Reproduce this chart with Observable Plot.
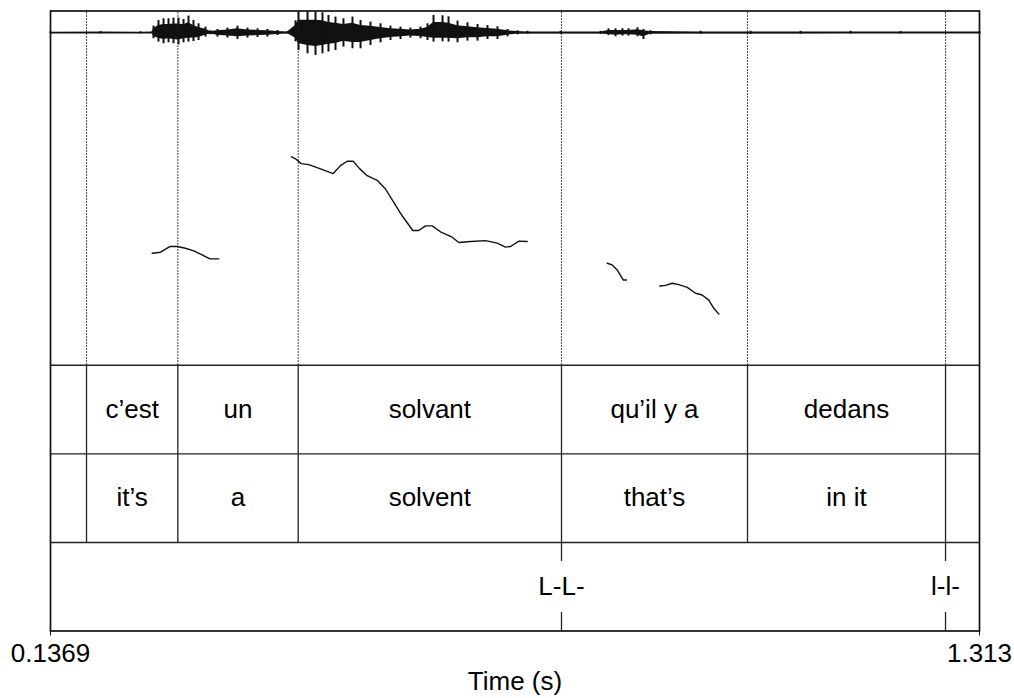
<!DOCTYPE html>
<html>
<head>
<meta charset="utf-8">
<script src="https://cdn.jsdelivr.net/npm/d3@7"></script>
<script src="https://cdn.jsdelivr.net/npm/@observablehq/plot@0.6"></script>
<style>
  html, body { margin: 0; padding: 0; background: white; }
  #chart { width: 1014px; height: 698px; }
</style>
</head>
<body>
<div id="chart"></div>
<script>
// ---- Data ----
const timeDomain = [0.1369, 1.313];           // seconds, axis end labels
const boundaries = [0.1825, 0.2981, 0.4505, 0.7838, 1.0193, 1.2700];
const frenchWords = ["", "c’est", "un", "solvant", "qu’il y a", "dedans", ""];
const englishWords = ["", "it’s", "a", "solvent", "that’s", "in it", ""];
const tonePoints = [0.7838, 1.2700];
const toneLabels = ["L-L-", "l-l-"];

// Pitch track (s, Hz), four voiced stretches
const pitchSeg1 = [[0.2656,129.1],[0.2762,129.8],[0.2879,133.8],[0.2973,133.8],[0.3078,132.6],[0.3183,130.7],[0.3289,127.9],[0.3386,125.1],[0.3500,125.1]];
const pitchSeg2 = [[0.4420,197.1],[0.4471,195.7],[0.4543,192.3],[0.4639,191.6],[0.4787,188.6],[0.4948,185.3],[0.5040,190.9],[0.5125,194.0],[0.5201,194.0],[0.5285,188.6],[0.5378,183.8],[0.5505,180.5],[0.5610,174.4],[0.5715,164.9],[0.5821,155.5],[0.5956,145.1],[0.6032,145.1],[0.6116,148.4],[0.6201,148.4],[0.6306,144.2],[0.6454,140.4],[0.6538,136.6],[0.6686,137.3],[0.6876,138.0],[0.7024,136.2],[0.7129,133.4],[0.7193,133.8],[0.7298,137.6],[0.7404,137.3]];
const pitchSeg3 = [[0.8417,122.0],[0.8480,120.8],[0.8543,117.3],[0.8619,110.2],[0.8661,110.2]];
const pitchSeg4 = [[0.9083,105.9],[0.9155,106.4],[0.9240,107.9],[0.9323,106.9],[0.9430,105.0],[0.9535,100.8],[0.9619,99.6],[0.9703,96.0],[0.9766,90.2],[0.9830,86.1]];

// Waveform amplitude envelope (s, upper, lower magnitude)
const waveTime  = [0.1369,0.2002,0.2508,0.2660,0.2673,0.2736,0.2800,0.2863,0.2926,0.2990,0.3053,0.3116,0.3179,0.3243,0.3331,0.3395,0.3483,0.3610,0.3736,0.3863,0.3990,0.4116,0.4243,0.4369,0.4471,0.4509,0.4623,0.4724,0.4812,0.4888,0.4977,0.5078,0.5192,0.5294,0.5420,0.5547,0.5673,0.5800,0.5926,0.6053,0.6142,0.6218,0.6332,0.6408,0.6522,0.6648,0.6775,0.6901,0.7028,0.7155,0.7281,0.7408,0.7826,0.8332,0.8433,0.8522,0.8610,0.8686,0.8800,0.8876,0.8965,0.9598,1.0231,1.0864,1.1497,1.2130,1.3130];
const waveUpper = [0.010,0.012,0.010,0.015,0.067,0.123,0.140,0.140,0.147,0.147,0.133,0.167,0.123,0.090,0.057,0.020,0.033,0.047,0.067,0.047,0.040,0.033,0.023,0.013,0.120,0.207,0.210,0.210,0.200,0.173,0.157,0.140,0.157,0.123,0.107,0.090,0.067,0.057,0.047,0.057,0.090,0.173,0.170,0.160,0.117,0.100,0.083,0.073,0.060,0.033,0.020,0.015,0.015,0.015,0.040,0.040,0.040,0.040,0.050,0.033,0.020,0.015,0.015,0.015,0.015,0.012,0.012];
const waveLower = [0.010,0.010,0.010,0.012,0.060,0.093,0.110,0.100,0.110,0.120,0.100,0.093,0.087,0.077,0.043,0.020,0.043,0.053,0.067,0.053,0.047,0.043,0.027,0.013,0.090,0.177,0.210,0.227,0.210,0.193,0.177,0.143,0.160,0.160,0.127,0.100,0.077,0.067,0.053,0.060,0.077,0.093,0.090,0.093,0.100,0.083,0.083,0.067,0.067,0.040,0.020,0.015,0.015,0.015,0.027,0.040,0.033,0.033,0.040,0.067,0.020,0.015,0.015,0.015,0.012,0.012,0.012];

// ---- Layout (vertical bands in y units: tone tier 0-1, English 1-2, French 2-3, signal 3-7) ----
const WAVE_BASE = 6.754, WAVE_GAIN = 1.129, CORE = 0.6;
const pitchY = hz => 3 + (hz - 50) / 250 * 4;

const edges = [timeDomain[0], ...boundaries, timeDomain[1]];
const intervals = frenchWords.map((w, i) => ({start: edges[i], end: edges[i + 1], fr: w, en: englishWords[i]}));
const wave = waveTime.map((t, i) => ({t, hi: waveUpper[i], lo: waveLower[i]}));
const pitch = [pitchSeg1, pitchSeg2, pitchSeg3, pitchSeg4].flatMap((seg, k) => seg.map(([t, hz]) => ({t, hz, seg: k})));
const tones = tonePoints.map((t, i) => ({t, label: toneLabels[i]}));

const font = "'Liberation Sans', Arial, sans-serif";

const chart = Plot.plot({
  width: 1014,
  height: 698,
  marginLeft: 50,
  marginRight: 35,
  marginTop: 10.5,
  marginBottom: 67.5,
  style: {fontFamily: font, fontSize: "26px", color: "black", background: "white", overflow: "visible"},
  x: {domain: timeDomain, ticks: timeDomain, tickFormat: d => String(d), tickSize: 5, tickPadding: 8, label: null},
  y: {domain: [0, 7], axis: null},
  marks: [
    // waveform: solid core plus pulse spikes to the envelope
    Plot.areaY(wave, {x: "t", y1: d => WAVE_BASE - d.lo * WAVE_GAIN * CORE, y2: d => WAVE_BASE + d.hi * WAVE_GAIN * CORE, fill: "#111"}),
    Plot.ruleX(wave, {x: "t", y1: d => WAVE_BASE - d.lo * WAVE_GAIN, y2: d => WAVE_BASE + d.hi * WAVE_GAIN, stroke: "#111", strokeWidth: 2}),
    Plot.line(wave, {x: "t", y: () => WAVE_BASE, stroke: "#111", strokeWidth: 1.6}),
    // dotted boundary extensions through the signal panel
    Plot.ruleX(boundaries, {y1: 3, y2: 7, stroke: "#222", strokeWidth: 1.1, strokeDasharray: "1.5,1.5"}),
    // pitch track
    Plot.line(pitch, {x: "t", y: d => pitchY(d.hz), z: "seg", stroke: "#111", strokeWidth: 1.4}),
    // tier separators
    Plot.ruleY([1, 2, 3], {stroke: "#222", strokeWidth: 1.4}),
    // interval boundaries in word tiers
    Plot.ruleX(boundaries, {y1: 1, y2: 3, stroke: "#222", strokeWidth: 1.3}),
    // point-tier ticks
    Plot.ruleX(tones, {x: "t", y1: 0.785, y2: 1, stroke: "#222", strokeWidth: 1.3}),
    Plot.ruleX(tones, {x: "t", y1: 0, y2: 0.21, stroke: "#222", strokeWidth: 1.3}),
    // labels
    Plot.text(intervals, {x: d => (d.start + d.end) / 2, y: 2.5, text: "fr", fontSize: 26, fill: "black"}),
    Plot.text(intervals, {x: d => (d.start + d.end) / 2, y: 1.5, text: "en", fontSize: 26, fill: "black"}),
    Plot.text(tones, {x: "t", y: 0.5, text: "label", fontSize: 26, fill: "black"}),
    Plot.text(["Time (s)"], {frameAnchor: "bottom", dy: 59, fontSize: 26, fill: "black"}),
    Plot.frame({stroke: "#111", strokeWidth: 1.7})
  ]
});
document.getElementById("chart").append(chart);
</script>
</body>
</html>
